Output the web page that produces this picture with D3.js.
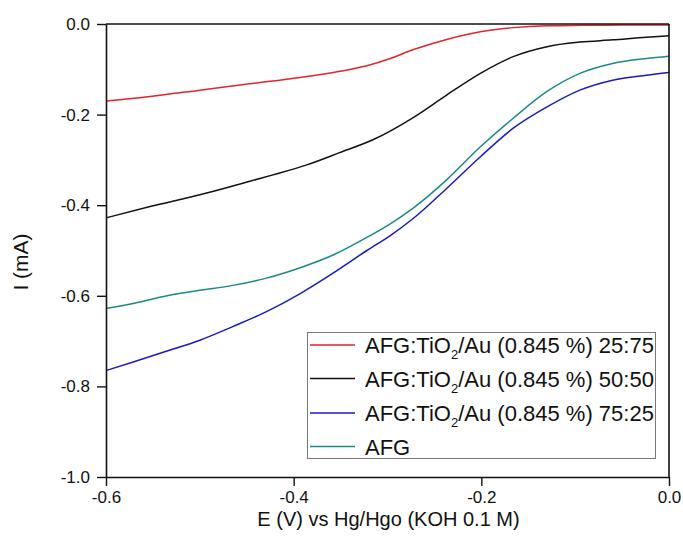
<!DOCTYPE html>
<html>
<head>
<meta charset="utf-8">
<script src="https://cdn.jsdelivr.net/npm/d3@7"></script>
<style>
  html, body { margin: 0; padding: 0; background: #fff; }
  svg { display: block; font-family: "Liberation Sans", Arial, sans-serif; }
</style>
</head>
<body>
<svg id="chart" width="683" height="546"></svg>
<script>
// ---- data ----
const xTicks = [-0.6, -0.4, -0.2, 0.0];
const yTicks = [-1.0, -0.8, -0.6, -0.4, -0.2, 0.0];

const redE = [-0.6, -0.553, -0.5, -0.447, -0.393, -0.358, -0.322, -0.297, -0.273, -0.237, -0.201, -0.166, -0.13, -0.09, -0.05, 0];
const redI = [-0.170, -0.160, -0.146, -0.132, -0.118, -0.107, -0.092, -0.076, -0.057, -0.034, -0.017, -0.008, -0.004, -0.003, -0.002, -0.002];

const blackE = [-0.6, -0.553, -0.5, -0.457, -0.422, -0.386, -0.351, -0.315, -0.273, -0.237, -0.201, -0.166, -0.13, -0.095, -0.06, -0.024, 0];
const blackI = [-0.428, -0.403, -0.377, -0.353, -0.333, -0.311, -0.284, -0.255, -0.207, -0.157, -0.109, -0.072, -0.050, -0.040, -0.035, -0.029, -0.026];

const blueE = [-0.6, -0.571, -0.535, -0.5, -0.465, -0.429, -0.393, -0.358, -0.322, -0.297, -0.273, -0.237, -0.201, -0.166, -0.13, -0.095, -0.06, -0.024, 0];
const blueI = [-0.765, -0.746, -0.722, -0.698, -0.668, -0.635, -0.595, -0.550, -0.500, -0.467, -0.430, -0.363, -0.293, -0.230, -0.183, -0.146, -0.124, -0.113, -0.107];

const tealE = [-0.6, -0.571, -0.535, -0.5, -0.465, -0.429, -0.393, -0.358, -0.322, -0.297, -0.273, -0.237, -0.201, -0.166, -0.13, -0.095, -0.06, -0.024, 0];
const tealI = [-0.628, -0.617, -0.600, -0.588, -0.577, -0.561, -0.538, -0.510, -0.471, -0.441, -0.407, -0.344, -0.271, -0.208, -0.149, -0.109, -0.087, -0.076, -0.071];

const seriesNames = ["AFG:TiO|2|/Au (0.845 %) 25:75", "AFG:TiO|2|/Au (0.845 %) 50:50", "AFG:TiO|2|/Au (0.845 %) 75:25", "AFG"];
const seriesColors = ["#e3242b", "#111111", "#1a1ac4", "#1a8a82"];

// ---- layout ----
const svg = d3.select("#chart");
const m = { left: 106, top: 24, right: 14, bottom: 69 };
const W = 683 - m.left - m.right;
const H = 546 - m.top - m.bottom;

const x = d3.scaleLinear().domain([-0.6, 0.0]).range([0, W]);
const y = d3.scaleLinear().domain([-1.0, 0.0]).range([H, 0]);

const g = svg.append("g").attr("transform", `translate(${m.left},${m.top})`);

const series = [
  { E: redE, I: redI },
  { E: blackE, I: blackI },
  { E: blueE, I: blueI },
  { E: tealE, I: tealI }
];

const line = d3.line()
  .x(d => x(d[0]))
  .y(d => y(d[1]))
  .curve(d3.curveMonotoneX);

// draw in order: teal, blue, black, red (red on top)
[3, 2, 1, 0].forEach(i => {
  const s = series[i];
  g.append("path")
    .datum(s.E.map((e, k) => [e, s.I[k]]))
    .attr("fill", "none")
    .attr("stroke", seriesColors[i])
    .attr("stroke-width", 1.5)
    .attr("d", line);
});

// ---- axes ----
const fmt = v => d3.format(".1f")(v).replace("\u2212", "-");
const xAxis = g.append("g").attr("transform", `translate(0,${H})`)
  .call(d3.axisBottom(x).tickValues(xTicks).tickFormat(fmt).tickSize(9).tickSizeOuter(0).tickPadding(5));
const yAxis = g.append("g")
  .call(d3.axisLeft(y).tickValues(yTicks).tickFormat(fmt).tickSize(9).tickSizeOuter(0).tickPadding(7));

[xAxis, yAxis].forEach(a => {
  a.selectAll("path.domain").attr("stroke", "#111").attr("stroke-width", 1.6);
  a.selectAll(".tick line").attr("stroke", "#111").attr("stroke-width", 1.4);
  a.selectAll(".tick text").attr("font-size", 17).attr("fill", "#111")
    .attr("font-family", "'Liberation Sans', Arial, sans-serif");
});

// top & right frame
g.append("line").attr("x1", 0).attr("x2", W).attr("y1", 0).attr("y2", 0)
  .attr("stroke", "#111").attr("stroke-width", 1.6);
g.append("line").attr("x1", W).attr("x2", W).attr("y1", 0).attr("y2", H)
  .attr("stroke", "#111").attr("stroke-width", 1.6);

// axis titles
svg.append("text")
  .attr("x", m.left + W / 2 + 1).attr("y", 526)
  .attr("text-anchor", "middle").attr("font-size", 20).attr("fill", "#111")
  .text("E (V) vs Hg/Hgo (KOH 0.1 M)");

svg.append("text")
  .attr("transform", "translate(28,262) rotate(-90)")
  .attr("text-anchor", "middle").attr("font-size", 21).attr("fill", "#111")
  .text("I (mA)");

// ---- legend ----
const leg = svg.append("g");
leg.append("rect")
  .attr("x", 307.5).attr("y", 332.5).attr("width", 348).attr("height", 126)
  .attr("fill", "#fff").attr("stroke", "#777").attr("stroke-width", 1);

const rowY = [345, 378.5, 413, 446.5];
seriesNames.forEach((name, i) => {
  leg.append("line")
    .attr("x1", 310).attr("x2", 355).attr("y1", rowY[i]).attr("y2", rowY[i])
    .attr("stroke", seriesColors[i]).attr("stroke-width", 1.5);
  const t = leg.append("text")
    .attr("x", 365).attr("y", rowY[i] + 8)
    .attr("font-size", 22).attr("fill", "#111");
  const parts = name.split("|");
  parts.forEach((p, k) => {
    if (k % 2 === 1) {
      t.append("tspan").attr("font-size", 13).attr("dy", 6).text(p);
    } else {
      const ts = t.append("tspan").text(p);
      if (k > 0) ts.attr("dy", -6);
    }
  });
});
</script>
</body>
</html>
